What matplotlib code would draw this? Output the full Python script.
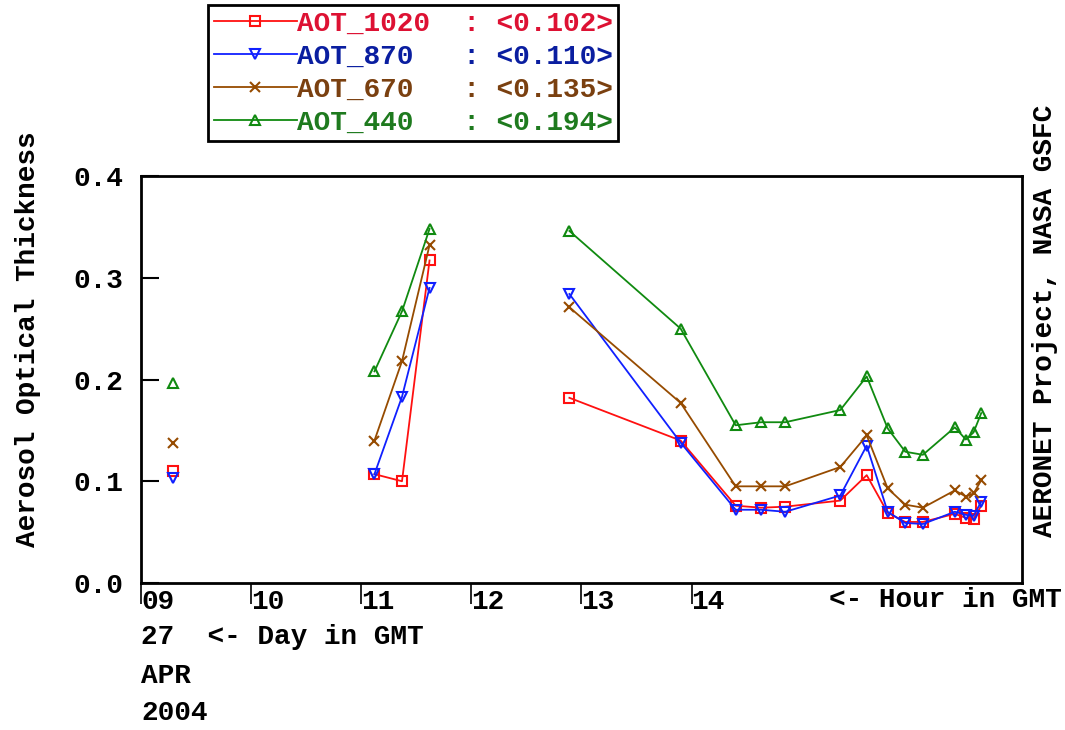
import numpy as np
import matplotlib
matplotlib.use("Agg")
import matplotlib.pyplot as plt

# hours (GMT) of the observations on 27 Apr 2004; NaN breaks the line
hours = [9.29, np.nan, 11.12, 11.37, 11.62, np.nan, 12.89, 13.90, 14.40, 14.63,
         14.85, 15.35, 15.59, 15.78, 15.94, 16.10, 16.39, 16.49, 16.56, 16.63]

aot_1020 = [0.110, np.nan, 0.107, 0.100, 0.317, np.nan, 0.182, 0.140, 0.076, 0.074,
            0.075, 0.081, 0.106, 0.069, 0.060, 0.060, 0.068, 0.064, 0.063, 0.076]
aot_870 = [0.103, np.nan, 0.107, 0.183, 0.290, np.nan, 0.284, 0.138, 0.072, 0.072,
           0.070, 0.086, 0.135, 0.070, 0.059, 0.058, 0.070, 0.067, 0.066, 0.080]
aot_670 = [0.138, np.nan, 0.140, 0.218, 0.332, np.nan, 0.271, 0.177, 0.095, 0.095,
           0.095, 0.114, 0.145, 0.093, 0.077, 0.074, 0.091, 0.085, 0.088, 0.101]
aot_440 = [0.197, np.nan, 0.208, 0.267, 0.348, np.nan, 0.346, 0.250, 0.155, 0.158,
           0.158, 0.170, 0.203, 0.152, 0.129, 0.126, 0.153, 0.141, 0.148, 0.167]

series_names = ["AOT_1020", "AOT_870", "AOT_670", "AOT_440"]
series_means = ["0.102", "0.110", "0.135", "0.194"]
hour_ticks = [9, 10, 11, 12, 13, 14]
hour_labels = ["09", "10", "11", "12", "13", "14"]

font = "Liberation Mono"
fs = 20

fig = plt.figure(figsize=(10.65, 7.3), dpi=100)
fig.patch.set_facecolor("white")
ax = fig.add_axes([141 / 1065, 147 / 730, 881 / 1065, 407 / 730])

styles = [
    ("#ff1010", "#dd1133", "s"),
    ("#1020ff", "#0a1ea0", "v"),
    ("#964b00", "#7a4010", "x"),
    ("#108a10", "#1e7a1e", "^"),
]
handles = []
for vals, (lc, tc, mk) in zip([aot_1020, aot_870, aot_670, aot_440], styles):
    h, = ax.plot(hours, vals, color=lc, lw=1.3, marker=mk, markersize=7,
                 markerfacecolor="none", markeredgecolor=lc, markeredgewidth=1.5)
    handles.append(h)

ax.set_xlim(9, 17)
ax.set_ylim(0, 0.4)
ax.set_yticks([0.0, 0.1, 0.2, 0.3, 0.4])
ax.set_yticklabels(["0.0", "0.1", "0.2", "0.3", "0.4"], fontfamily=font,
                   fontweight="bold", fontsize=fs)
ax.tick_params(axis="y", direction="in", length=13, width=1.5, pad=13)
ax.set_xticks(hour_ticks)
ax.set_xticklabels(hour_labels, fontfamily=font, fontweight="bold", fontsize=fs)
ax.tick_params(axis="x", direction="out", length=15, width=1.2, pad=-11)
for lab in ax.get_xticklabels():
    lab.set_horizontalalignment("left")
for sp in ax.spines.values():
    sp.set_linewidth(2)

txt = dict(fontfamily=font, fontweight="bold", fontsize=fs)
ax.text(-0.128, 0.60, "Aerosol Optical Thickness", rotation=90, ha="center",
        va="center", transform=ax.transAxes, **txt)
ax.text(1.026, 0.645, "AERONET Project, NASA GSFC", rotation=90, ha="center",
        va="center", transform=ax.transAxes, **txt)
ax.text(1.045, -0.042, "<- Hour in GMT", ha="right", va="center",
        transform=ax.transAxes, **txt)
ax.text(0.0, -0.133, "27  <- Day in GMT", ha="left", va="center",
        transform=ax.transAxes, **txt)
ax.text(0.0, -0.228, "APR", ha="left", va="center", transform=ax.transAxes, **txt)
ax.text(0.0, -0.319, "2004", ha="left", va="center", transform=ax.transAxes, **txt)

labels = []
for name, m in zip(series_names, series_means):
    pad = " " * (10 - len(name))
    labels.append(f"{name}{pad}: <{m}>")

leg = fig.legend(handles, labels, loc="upper left",
                 bbox_to_anchor=(208 / 1065, 1 - 5 / 730), frameon=True,
                 fancybox=False, edgecolor="black", framealpha=1,
                 prop=dict(family=font, weight="bold", size=fs),
                 handlelength=3.0, handletextpad=0.0, labelspacing=0.25,
                 borderpad=0.2, borderaxespad=0.0)
leg.get_frame().set_linewidth(2)
for t, (_, tc, _) in zip(leg.get_texts(), styles):
    t.set_color(tc)

fig.savefig("out.png", dpi=100, facecolor="white")
